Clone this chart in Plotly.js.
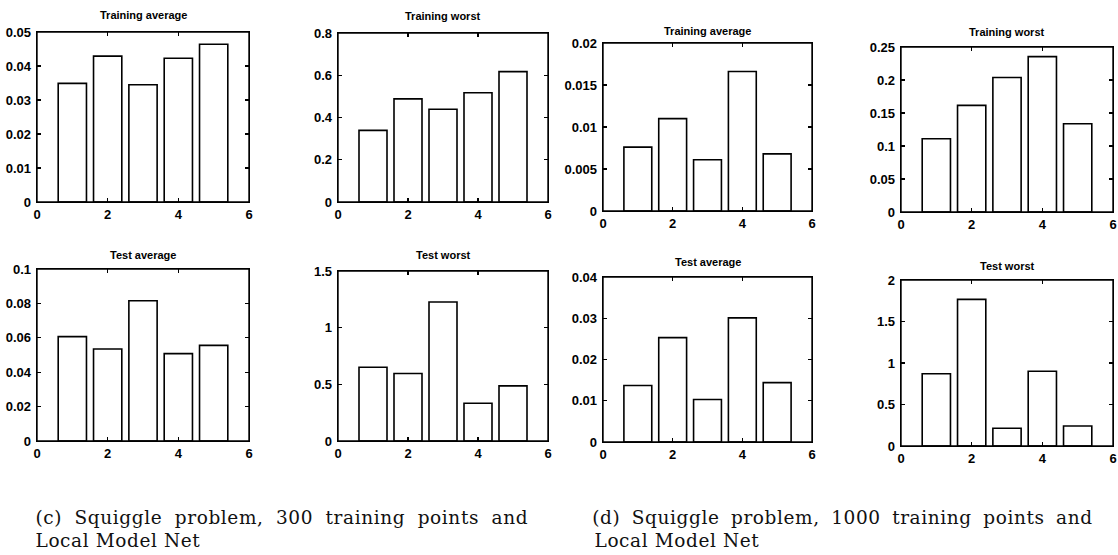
<!DOCTYPE html>
<html>
<head>
<meta charset="utf-8">
<script src="https://cdn.plot.ly/plotly-3.0.1.min.js"></script>
<style>
html,body{margin:0;padding:0;background:#fff;}
#chart{width:1118px;height:555px;}
g.annotation[data-index="8"] text, g.annotation[data-index="9"] text,
g.annotation[data-index="10"] text, g.annotation[data-index="11"] text { letter-spacing: 0.6px; }
g.annotation[data-index="8"] text { word-spacing: 6px; }
g.annotation[data-index="10"] text { word-spacing: 5px; }
</style>
</head>
<body>
<div id="chart"></div>
<script>
// Data
const runs = [1, 2, 3, 4, 5];
const xTicks = [0, 2, 4, 6];

// (c) Squiggle problem, 300 training points, Local Model Net
const c_trainAvg   = [0.0349, 0.0429, 0.0345, 0.0423, 0.0464];
const c_trainWorst = [0.339, 0.488, 0.439, 0.517, 0.617];
const c_testAvg    = [0.0607, 0.0535, 0.0815, 0.0508, 0.0556];
const c_testWorst  = [0.651, 0.595, 1.226, 0.333, 0.486];

// (d) Squiggle problem, 1000 training points, Local Model Net
const d_trainAvg   = [0.0076, 0.0110, 0.0061, 0.0166, 0.0068];
const d_trainWorst = [0.111, 0.1615, 0.2037, 0.2354, 0.1338];
const d_testAvg    = [0.0137, 0.0253, 0.0103, 0.0301, 0.0144];
const d_testWorst  = [0.871, 1.767, 0.213, 0.900, 0.241];

const panelTitles = ["Training average", "Training worst", "Training average", "Training worst",
                     "Test average", "Test worst", "Test average", "Test worst"];
const yMax   = [0.05, 0.8, 0.02, 0.25, 0.1, 1.5, 0.04, 2];
const yDtick = [0.01, 0.2, 0.005, 0.05, 0.02, 0.5, 0.01, 0.5];
const captionC = ["(c) Squiggle problem, 300 training points and", "Local Model Net"];
const captionD = ["(d) Squiggle problem, 1000 training points and", "Local Model Net"];

const series = [c_trainAvg, c_trainWorst, d_trainAvg, d_trainWorst,
                c_testAvg, c_testWorst, d_testAvg, d_testWorst];

// Panel pixel boxes [left, right, top, bottom] and title centre y
const W = 1118, H = 555;
const boxes = [
  [37, 249, 32, 202, 15],
  [338, 548, 33, 202, 16],
  [603, 812, 43, 211, 31],
  [901, 1113, 47, 212, 32],
  [37, 249, 269, 441, 255],
  [338, 548, 271, 441, 255],
  [603, 812, 277, 442, 262],
  [901, 1113, 280, 446, 266]
];

const tickFont = {family: "Liberation Sans, Arial, sans-serif", size: 13, color: "#000", weight: "bold"};
const data = [];
const layout = {
  width: W, height: H,
  margin: {l: 0, r: 0, t: 0, b: 0},
  paper_bgcolor: "#fff", plot_bgcolor: "#fff",
  showlegend: false,
  annotations: [],
  shapes: []
};

series.forEach((vals, i) => {
  const k = i + 1;
  const xa = k === 1 ? "x" : "x" + k;
  const ya = k === 1 ? "y" : "y" + k;
  data.push({
    type: "bar", x: runs, y: vals, width: 0.8,
    xaxis: xa, yaxis: ya,
    marker: {color: "#fff", line: {color: "#000", width: 1.6}},
    hoverinfo: "x+y"
  });
  const b = boxes[i];
  const axCommon = {
    showgrid: false, zeroline: false, showline: true, linecolor: "#000", linewidth: 1.4,
    mirror: "ticks", ticks: "inside", ticklen: 4, tickwidth: 1.2, tickcolor: "#000",
    tickfont: tickFont, fixedrange: true
  };
  layout["xaxis" + (k === 1 ? "" : k)] = Object.assign({}, axCommon, {
    domain: [b[0] / W, b[1] / W], anchor: ya,
    range: [0, 6], tickmode: "array", tickvals: xTicks, ticktext: xTicks.map(String)
  });
  layout["yaxis" + (k === 1 ? "" : k)] = Object.assign({}, axCommon, {
    domain: [1 - b[3] / H, 1 - b[2] / H], anchor: xa,
    range: [0, yMax[i]], tick0: 0, dtick: yDtick[i], ticklabelstandoff: 2
  });
  layout.shapes.push({
    type: "rect", xref: xa + " domain", yref: ya + " domain",
    x0: 0, x1: 1, y0: 0, y1: 1, line: {color: "#000", width: 1.4}, fillcolor: "rgba(0,0,0,0)"
  });
  layout.annotations.push({
    xref: "paper", yref: "paper", x: (b[0] + b[1]) / 2 / W, y: 1 - b[4] / H,
    xanchor: "center", yanchor: "middle", showarrow: false,
    text: panelTitles[i],
    font: {family: "Liberation Sans, Arial, sans-serif", size: 11, color: "#000", weight: "bold"}
  });
});

// Caption line centres (px): [line1 centre, line2 centre]
const capFont = {family: "DejaVu Serif, Liberation Serif, serif", size: 18.5, color: "#111"};
[[captionC, [282, 117.5]], [captionD, [842, 676.5]]].forEach(([lines, cx]) => {
  lines.forEach((t, j) => {
    layout.annotations.push({
      xref: "paper", yref: "paper", x: cx[j] / W, y: 1 - (517 + j * 23) / H,
      xanchor: "center", yanchor: "middle", showarrow: false, text: t, font: capFont
    });
  });
});

Plotly.newPlot("chart", data, layout, {displayModeBar: false, staticPlot: true});
</script>
</body>
</html>
